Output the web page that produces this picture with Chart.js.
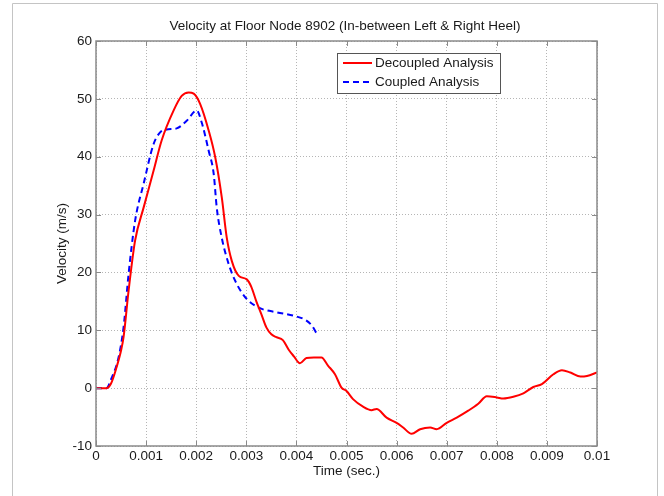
<!DOCTYPE html>
<html>
<head>
<meta charset="utf-8">
<script src="https://cdn.jsdelivr.net/npm/chart.js@4/dist/chart.umd.min.js"></script>
<style>
  html, body { margin: 0; padding: 0; background: #ffffff; }
  #wrap { position: relative; width: 664px; height: 496px; }
  canvas { display: block; }
</style>
</head>
<body>
<div id="wrap"><canvas id="c" width="664" height="496"></canvas></div>
<script>
// ---- Data (time in seconds, velocity in m/s) ----
const decoupledTime = [0, 0.00021, 0.0003, 0.00041, 0.0005, 0.00055, 0.00065, 0.00078, 0.00095, 0.00115,
  0.00131, 0.00155, 0.00171, 0.00185, 0.00195, 0.00208, 0.00225, 0.00238, 0.00251, 0.00261,
  0.00271, 0.00285, 0.00301, 0.0031, 0.0032, 0.0033, 0.0034, 0.0035, 0.0036, 0.00373,
  0.00385, 0.00395, 0.00407, 0.0042, 0.00435, 0.0045, 0.00463, 0.00477, 0.0049, 0.005,
  0.00513, 0.00533, 0.0055, 0.0056, 0.0058, 0.006, 0.00613, 0.0063, 0.00647, 0.00667,
  0.0068, 0.007, 0.0072, 0.00743, 0.00763, 0.0078, 0.008, 0.00813, 0.00833, 0.00853,
  0.00873, 0.0089, 0.00913, 0.0093, 0.00947, 0.00967, 0.0098, 0.01];
const decoupledVel = [0, 0, 0.8, 3.6, 6.5, 8.8, 16.8, 25.5, 31.2, 37.6,
  42.8, 48, 50.5, 51.1, 50.9, 49.1, 44.5, 39.9, 33, 26,
  22, 19.4, 18.8, 17.5, 15, 12.8, 10.5, 9.3, 8.8, 8.3,
  6.6, 5.5, 4.3, 5.2, 5.3, 5.3, 3.9, 2.4, 0.1, -0.5,
  -1.9, -3.2, -3.8, -3.6, -5.1, -6, -6.8, -7.9, -7.1, -6.8,
  -7.1, -6, -5.1, -3.9, -2.7, -1.4, -1.6, -1.8, -1.5, -0.9,
  0.2, 0.7, 2.4, 3.1, 2.7, 2.0, 2.1, 2.7];

const coupledTime = [0, 0.00021, 0.0003, 0.00045, 0.00055, 0.00065, 0.00078, 0.00095, 0.00115, 0.00128,
  0.00141, 0.00161, 0.00181, 0.00201, 0.00211, 0.00225, 0.00235, 0.00241, 0.00251, 0.00265,
  0.00281, 0.00301, 0.00325, 0.00361, 0.00395, 0.00418, 0.00431, 0.0044];
const coupledVel = [0, 0, 1.5, 5.3, 10.5, 19.7, 28.9, 35.3, 42.2, 44.2,
  44.7, 44.9, 46.2, 48, 45.9, 41, 37, 31.2, 26, 21.4,
  18, 15.4, 13.9, 13.1, 12.5, 11.8, 10.8, 9.5];

const seriesNames = ['Decoupled Analysis', 'Coupled Analysis'];
const chartTitle = 'Velocity at Floor Node 8902 (In-between Left & Right Heel)';
const xTitle = 'Time (sec.)';
const yTitle = 'Velocity (m/s)';
const xMin = 0, xMax = 0.01, xStep = 0.001;
const yMin = -10, yMax = 60, yStep = 10;

const FONT = '"Liberation Sans", Arial, Helvetica, sans-serif';
const TEXT = '#1a1a1a';
const FRAME = '#8a8a8a';

function pts(xs, ys) { return xs.map((x, i) => ({ x: x, y: ys[i] })); }

const matlabDecor = {
  id: 'matlabDecor',
  beforeDraw(chart) {
    const ctx = chart.ctx;
    ctx.save();
    ctx.fillStyle = '#ffffff';
    ctx.fillRect(0, 0, chart.width, chart.height);
    // outer figure border
    ctx.strokeStyle = '#c4c4c4';
    ctx.lineWidth = 1;
    ctx.beginPath();
    ctx.moveTo(12.5, 500);
    ctx.lineTo(12.5, 3.5);
    ctx.lineTo(657.5, 3.5);
    ctx.lineTo(657.5, 500);
    ctx.stroke();
    ctx.restore();
  },
  afterDraw(chart) {
    const ctx = chart.ctx;
    const a = chart.chartArea;
    const xs = chart.scales.x, ys = chart.scales.y;
    ctx.save();
    // frame
    ctx.strokeStyle = FRAME;
    ctx.lineWidth = 1.5;
    ctx.strokeRect(a.left, a.top, a.right - a.left, a.bottom - a.top);
    // inward ticks on all sides
    ctx.lineWidth = 1;
    const tl = 5;
    ctx.beginPath();
    xs.ticks.forEach(t => {
      const px = Math.round(xs.getPixelForValue(t.value)) + 0.5;
      ctx.moveTo(px, a.bottom); ctx.lineTo(px, a.bottom - tl);
      ctx.moveTo(px, a.top); ctx.lineTo(px, a.top + tl);
    });
    ys.ticks.forEach(t => {
      const py = Math.round(ys.getPixelForValue(t.value)) + 0.5;
      ctx.moveTo(a.left, py); ctx.lineTo(a.left + tl, py);
      ctx.moveTo(a.right, py); ctx.lineTo(a.right - tl, py);
    });
    ctx.stroke();

    // title and axis titles
    ctx.fillStyle = TEXT;
    ctx.font = '13.5px ' + FONT;
    ctx.textAlign = 'center';
    ctx.textBaseline = 'middle';
    const cx = (a.left + a.right) / 2;
    ctx.fillText(chartTitle, cx - 1.5, a.top - 15);
    ctx.fillText(xTitle, cx, a.bottom + 25);
    ctx.save();
    ctx.translate(a.left - 34, (a.top + a.bottom) / 2);
    ctx.rotate(-Math.PI / 2);
    ctx.fillText(yTitle, 0, 0);
    ctx.restore();

    // legend
    const lx = a.left + 241, ly = a.top + 12, lw = 163, lh = 40;
    ctx.fillStyle = '#ffffff';
    ctx.fillRect(lx, ly, lw, lh);
    ctx.strokeStyle = '#555555';
    ctx.lineWidth = 1;
    ctx.strokeRect(lx + 0.5, ly + 0.5, lw, lh);
    const ds = chart.data.datasets;
    const rows = [ly + 10, ly + 29];
    ds.forEach((d, i) => {
      ctx.strokeStyle = d.borderColor;
      ctx.lineWidth = d.borderWidth;
      ctx.setLineDash(d.borderDash || []);
      ctx.beginPath();
      ctx.moveTo(lx + 6, rows[i]);
      ctx.lineTo(lx + 35, rows[i]);
      ctx.stroke();
      ctx.setLineDash([]);
      ctx.fillStyle = TEXT;
      ctx.textAlign = 'left';
      ctx.fillText(d.label, lx + 38, rows[i] + 0.5);
    });
    ctx.restore();
  }
};

new Chart(document.getElementById('c'), {
  type: 'line',
  data: {
    datasets: [
      {
        label: seriesNames[0],
        data: pts(decoupledTime, decoupledVel),
        borderColor: '#ff0000',
        borderWidth: 2,
        pointRadius: 0,
        fill: false,
        cubicInterpolationMode: 'monotone'
      },
      {
        label: seriesNames[1],
        data: pts(coupledTime, coupledVel),
        borderColor: '#0000ff',
        borderWidth: 2,
        borderDash: [6, 4],
        pointRadius: 0,
        fill: false,
        cubicInterpolationMode: 'monotone'
      }
    ]
  },
  options: {
    responsive: false,
    animation: false,
    devicePixelRatio: 1,
    layout: { padding: { top: 41, right: 67, left: 50, bottom: 0 } },
    plugins: { legend: { display: false }, title: { display: false }, tooltip: { enabled: false } },
    scales: {
      x: {
        type: 'linear',
        min: xMin, max: xMax,
        afterFit(s) { s.height = 50; },
        ticks: {
          stepSize: xStep,
          padding: 2,
          color: TEXT,
          font: { family: FONT, size: 13.5 },
          maxRotation: 0,
          autoSkip: false,
          callback: v => String(Math.round(v * 1000) / 1000)
        },
        grid: { color: '#b5b5b5', lineWidth: 1, drawTicks: false },
        border: { display: false, dash: [1, 2] }
      },
      y: {
        type: 'linear',
        min: yMin, max: yMax,
        afterFit(s) { s.width = 46; },
        ticks: {
          stepSize: yStep,
          padding: 4,
          color: TEXT,
          font: { family: FONT, size: 13.5 }
        },
        grid: { color: '#b5b5b5', lineWidth: 1, drawTicks: false },
        border: { display: false, dash: [1, 2] }
      }
    }
  },
  plugins: [matlabDecor]
});
</script>
</body>
</html>
